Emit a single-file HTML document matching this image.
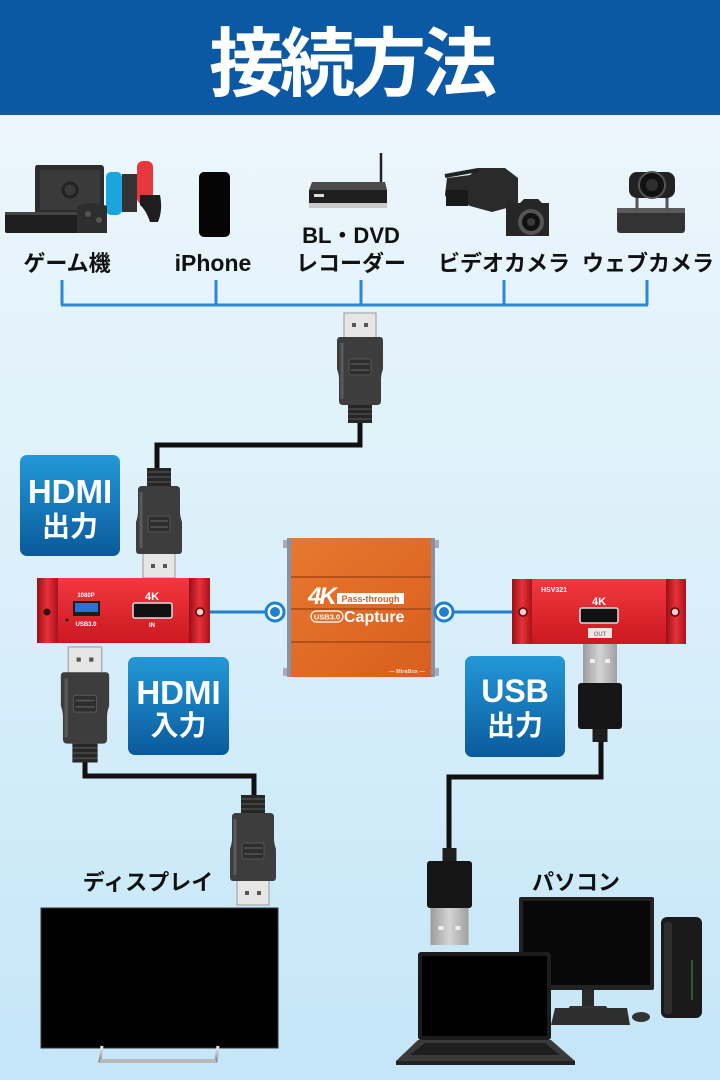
<!DOCTYPE html>
<html><head><meta charset="utf-8"><style>
html,body{margin:0;padding:0;width:720px;height:1080px;overflow:hidden;background:#dceffa}
svg{display:block}
.jp{font-family:"Liberation Sans","Noto Sans CJK JP",sans-serif;font-weight:700}
</style></head><body>
<svg width="720" height="1080" viewBox="0 0 720 1080" xmlns="http://www.w3.org/2000/svg">
<defs>
<linearGradient id="bg" x1="0" y1="0" x2="0" y2="1">
<stop offset="0" stop-color="#f1f8fc"/><stop offset="0.5" stop-color="#dcf0fa"/><stop offset="1" stop-color="#c4e6f8"/>
</linearGradient>
<linearGradient id="lbl" x1="0" y1="0" x2="0" y2="1">
<stop offset="0" stop-color="#2398d8"/><stop offset="1" stop-color="#0a5a9c"/>
</linearGradient>
<linearGradient id="red" x1="0" y1="0" x2="0" y2="1">
<stop offset="0" stop-color="#f23840"/><stop offset="1" stop-color="#cc1820"/>
</linearGradient>
<linearGradient id="cap" x1="0" y1="0" x2="1" y2="0">
<stop offset="0" stop-color="#9a0e16"/><stop offset="0.5" stop-color="#e8323a"/><stop offset="1" stop-color="#a8121a"/>
</linearGradient>
<linearGradient id="org" x1="0" y1="0" x2="1" y2="1">
<stop offset="0" stop-color="#e8782f"/><stop offset="1" stop-color="#d85e1e"/>
</linearGradient>
<linearGradient id="usbm" x1="0" y1="0" x2="1" y2="0">
<stop offset="0" stop-color="#9c9c9c"/><stop offset="0.5" stop-color="#d4d4d4"/><stop offset="1" stop-color="#a0a0a0"/>
</linearGradient>
<linearGradient id="silver" x1="0" y1="0" x2="0" y2="1">
<stop offset="0" stop-color="#f0f0f0"/><stop offset="1" stop-color="#8a8a8a"/>
</linearGradient>
</defs>

<!-- background -->
<rect x="0" y="0" width="720" height="1080" fill="url(#bg)"/>
<!-- header -->
<rect x="0" y="0" width="720" height="115" fill="#0b59a4"/>
<text x="209" y="90" class="jp" font-size="75" font-weight="900" fill="#fff" letter-spacing="-4">接続方法</text>

<!-- top devices -->
<!-- switch / console -->
<path d="M37,165 H101 Q104,165 104,169 V212 H35 V169 Q35,165 37,165Z" fill="#2c2c2c"/>
<rect x="40" y="170" width="60" height="40" fill="#3a3a3a"/>
<circle cx="70" cy="190" r="7" fill="none" stroke="#222" stroke-width="3"/>
<rect x="106" y="172" width="16" height="43" rx="5" fill="#1aa5dc"/>
<rect x="122" y="174" width="15" height="38" fill="#333"/>
<rect x="137" y="161" width="16" height="43" rx="6" fill="#e8383f"/>
<path d="M140,195 H160 Q163,210 158,222 H150 Q146,210 140,205Z" fill="#1e1e1e"/>
<rect x="5" y="212" width="102" height="21" rx="2" fill="#1e1e1e"/>
<rect x="5" y="212" width="102" height="3" fill="#444"/>
<path d="M77,206 Q92,200 107,206 V233 H77Z" fill="#2e2e2e"/>
<circle cx="88" cy="214" r="3" fill="#555"/><circle cx="99" cy="220" r="3" fill="#555"/>
<!-- iPhone -->
<rect x="199" y="172" width="31" height="65" rx="5" fill="#050505"/>
<!-- bluray -->
<line x1="381" y1="153" x2="381" y2="184" stroke="#222" stroke-width="2.5"/>
<path d="M312,182 H385 L387,190 H309Z" fill="#4a4a4a"/>
<rect x="309" y="190" width="78" height="13" fill="#1e1e1e"/>
<rect x="309" y="203" width="78" height="5" fill="#c8c8c8"/>
<rect x="314" y="194" width="10" height="3" fill="#ddd"/>
<!-- video camera -->
<path d="M447,178 L470,175 L478,168 L505,168 L518,178 L518,205 L492,212 L470,206 L458,200 L450,205 L445,195Z" fill="#2a2a2a"/>
<rect x="446" y="190" width="22" height="16" fill="#1a1a1a"/>
<line x1="445" y1="176" x2="478" y2="170" stroke="#222" stroke-width="4"/>
<!-- DSLR -->
<path d="M508,203 H520 L524,199 H538 L542,203 H549 V236 H506 V203Z" fill="#262626"/>
<circle cx="531" cy="222" r="13" fill="#555"/>
<circle cx="531" cy="222" r="9" fill="#111"/>
<circle cx="531" cy="222" r="4" fill="#3a3a3a"/>
<!-- webcam -->
<rect x="617" y="208" width="68" height="25" rx="3" fill="#333"/>
<rect x="617" y="208" width="68" height="5" fill="#5a5a5a"/>
<path d="M637,190 V212 M667,190 V212" stroke="#555" stroke-width="3"/>
<rect x="629" y="172" width="46" height="26" rx="8" fill="#222"/>
<circle cx="652" cy="185" r="13" fill="#111" stroke="#555" stroke-width="2"/>
<circle cx="652" cy="185" r="6" fill="#2e2e2e"/>

<!-- top labels -->
<g class="jp" font-size="22" fill="#111" text-anchor="middle">
<text x="67" y="271">ゲーム機</text>
<text x="213" y="271" font-size="23">iPhone</text>
<text x="351" y="243">BL・DVD</text>
<text x="351" y="271">レコーダー</text>
<text x="504" y="271">ビデオカメラ</text>
<text x="648" y="271">ウェブカメラ</text>
</g>

<!-- bracket -->
<g stroke="#2a88d6" stroke-width="3" fill="none">
<path d="M61,305 H648"/>
<path d="M62,280 V305 M216,280 V305 M361,280 V305 M504,280 V305 M647,280 V305"/>
</g>

<!-- cables -->
<g stroke="#111" stroke-width="5" fill="none" stroke-linejoin="miter">
<path d="M360,420 V445 H157 V470"/>
<path d="M85,760 V776 H254 V798"/>
<path d="M601,740 V777 H449 V850"/>
</g>

<!-- HDMI plug 1 (up) -->
<g transform="translate(360,313)">
<rect x="-16" y="0" width="32" height="25" fill="#e6e6e6" stroke="#9a9a9a"/>
<rect x="-8" y="10" width="4" height="4" fill="#555"/><rect x="4" y="10" width="4" height="4" fill="#555"/>
<path d="M-20,24 H20 Q23,24 23,28 V56 Q21,62 21,66 V88 Q21,92 17,92 H-17 Q-21,92 -21,88 V66 Q-21,62 -23,56 V28 Q-23,24 -20,24Z" fill="#3d3d3d"/>
<path d="M-18,30 V86" stroke="#5a5a5a" stroke-width="3"/>
<rect x="-11" y="46" width="22" height="16" rx="2" fill="#2e2e2e" stroke="#555"/>
<path d="M-9,51 H9 M-9,57 H9" stroke="#555" stroke-width="1.5"/>
<rect x="-12" y="92" width="24" height="18" fill="#262626"/>
<path d="M-12,96 H12 M-12,101 H12 M-12,106 H12" stroke="#4a4a4a" stroke-width="1.5"/>
</g>
<!-- HDMI plug 2 (down) -->
<g transform="translate(159,578) scale(1,-1)">
<rect x="-16" y="0" width="32" height="25" fill="#e6e6e6" stroke="#9a9a9a"/>
<rect x="-8" y="10" width="4" height="4" fill="#555"/><rect x="4" y="10" width="4" height="4" fill="#555"/>
<path d="M-20,24 H20 Q23,24 23,28 V56 Q21,62 21,66 V88 Q21,92 17,92 H-17 Q-21,92 -21,88 V66 Q-21,62 -23,56 V28 Q-23,24 -20,24Z" fill="#3d3d3d"/>
<path d="M-18,30 V86" stroke="#5a5a5a" stroke-width="3"/>
<rect x="-11" y="46" width="22" height="16" rx="2" fill="#2e2e2e" stroke="#555"/>
<path d="M-9,51 H9 M-9,57 H9" stroke="#555" stroke-width="1.5"/>
<rect x="-12" y="92" width="24" height="18" fill="#262626"/>
<path d="M-12,96 H12 M-12,101 H12 M-12,106 H12" stroke="#4a4a4a" stroke-width="1.5"/>
</g>
<!-- HDMI plug 3 (up) -->
<g transform="translate(85,647) scale(1.05)">
<rect x="-16" y="0" width="32" height="25" fill="#e6e6e6" stroke="#9a9a9a"/>
<rect x="-8" y="10" width="4" height="4" fill="#555"/><rect x="4" y="10" width="4" height="4" fill="#555"/>
<path d="M-20,24 H20 Q23,24 23,28 V56 Q21,62 21,66 V88 Q21,92 17,92 H-17 Q-21,92 -21,88 V66 Q-21,62 -23,56 V28 Q-23,24 -20,24Z" fill="#3d3d3d"/>
<path d="M-18,30 V86" stroke="#5a5a5a" stroke-width="3"/>
<rect x="-11" y="46" width="22" height="16" rx="2" fill="#2e2e2e" stroke="#555"/>
<path d="M-9,51 H9 M-9,57 H9" stroke="#555" stroke-width="1.5"/>
<rect x="-12" y="92" width="24" height="18" fill="#262626"/>
<path d="M-12,96 H12 M-12,101 H12 M-12,106 H12" stroke="#4a4a4a" stroke-width="1.5"/>
</g>
<!-- HDMI plug 4 (down) -->
<g transform="translate(253,905) scale(1,-1)">
<rect x="-16" y="0" width="32" height="25" fill="#e6e6e6" stroke="#9a9a9a"/>
<rect x="-8" y="10" width="4" height="4" fill="#555"/><rect x="4" y="10" width="4" height="4" fill="#555"/>
<path d="M-20,24 H20 Q23,24 23,28 V56 Q21,62 21,66 V88 Q21,92 17,92 H-17 Q-21,92 -21,88 V66 Q-21,62 -23,56 V28 Q-23,24 -20,24Z" fill="#3d3d3d"/>
<path d="M-18,30 V86" stroke="#5a5a5a" stroke-width="3"/>
<rect x="-11" y="46" width="22" height="16" rx="2" fill="#2e2e2e" stroke="#555"/>
<path d="M-9,51 H9 M-9,57 H9" stroke="#555" stroke-width="1.5"/>
<rect x="-12" y="92" width="24" height="18" fill="#262626"/>
<path d="M-12,96 H12 M-12,101 H12 M-12,106 H12" stroke="#4a4a4a" stroke-width="1.5"/>
</g>

<!-- USB plug top (up) -->
<g transform="translate(600,644)">
<rect x="-17" y="0" width="34" height="40" fill="url(#usbm)"/>
<rect x="-10" y="15" width="5" height="4" fill="#eee"/><rect x="5" y="15" width="5" height="4" fill="#eee"/>
<rect x="-22" y="39" width="44" height="46" rx="3" fill="#151515"/>
<rect x="-7.5" y="85" width="15" height="13" fill="#1e1e1e"/>
</g>
<!-- USB plug bottom (down) -->
<g transform="translate(449.5,945) scale(1,-1)">
<rect x="-19" y="0" width="38" height="38" fill="url(#usbm)"/>
<rect x="-11" y="15" width="5" height="4" fill="#eee"/><rect x="6" y="15" width="5" height="4" fill="#eee"/>
<rect x="-22.5" y="37" width="45" height="47" rx="3" fill="#151515"/>
<rect x="-7" y="84" width="14" height="13" fill="#1e1e1e"/>
</g>

<!-- blue connector lines -->
<g stroke="#1f7fd0" stroke-width="3">
<line x1="210" y1="612" x2="266" y2="612"/>
<line x1="453" y1="612" x2="512" y2="612"/>
</g>

<!-- left red box -->
<rect x="37" y="578" width="173" height="65" fill="url(#red)"/>
<rect x="37" y="578" width="21" height="65" fill="url(#cap)"/>
<rect x="189" y="578" width="21" height="65" fill="url(#cap)"/>
<circle cx="47" cy="612" r="3.5" fill="#3a0a0a"/>
<circle cx="200" cy="612" r="4" fill="#f4d0d0" stroke="#600" stroke-width="1.5"/>
<rect x="73" y="601" width="27" height="15" fill="#1c1c1c"/>
<rect x="75" y="603" width="23" height="9" fill="#2e6fd6"/>
<circle cx="67" cy="620" r="1.5" fill="#222"/>
<rect x="133" y="603" width="39" height="15" rx="2" fill="#111" stroke="#ddd" stroke-width="1.5"/>
<g font-family="Liberation Sans,sans-serif" font-weight="700" fill="#fff">
<text x="86" y="597" font-size="6" text-anchor="middle">1080P</text>
<text x="86" y="626" font-size="6" text-anchor="middle">USB3.0</text>
<text x="152" y="600" font-size="11" text-anchor="middle">4K</text>
<text x="152" y="627" font-size="6" text-anchor="middle">IN</text>
</g>

<!-- right red box -->
<rect x="512" y="579" width="174" height="65" fill="url(#red)"/>
<rect x="512" y="579" width="20" height="65" fill="url(#cap)"/>
<rect x="666" y="579" width="20" height="65" fill="url(#cap)"/>
<circle cx="523" cy="612" r="4" fill="#f4d0d0" stroke="#600" stroke-width="1.5"/>
<circle cx="675" cy="612" r="4" fill="#f4d0d0" stroke="#600" stroke-width="1.5"/>
<rect x="580" y="608" width="38" height="15" rx="2" fill="#111" stroke="#ddd" stroke-width="1.5"/>
<rect x="588" y="628" width="24" height="10" fill="#f2e6e6"/>
<g font-family="Liberation Sans,sans-serif" font-weight="700">
<text x="541" y="592" font-size="7" fill="#fff">HSV321</text>
<text x="599" y="605" font-size="11" fill="#fff" text-anchor="middle">4K</text>
<text x="600" y="636" font-size="6" fill="#888" text-anchor="middle">OUT</text>
</g>

<!-- orange capture box -->
<rect x="283" y="540" width="4" height="8" fill="#aab"/>
<rect x="283" y="668" width="4" height="8" fill="#aab"/>
<rect x="435" y="540" width="4" height="8" fill="#aab"/>
<rect x="435" y="668" width="4" height="8" fill="#aab"/>
<rect x="287" y="538" width="148" height="139" fill="url(#org)"/>
<rect x="287" y="538" width="4" height="139" fill="#8a90a6"/>
<rect x="431" y="538" width="4" height="139" fill="#8a90a6"/>
<g stroke="#a84614" stroke-width="1.5">
<line x1="291" y1="577" x2="431" y2="577"/>
<line x1="291" y1="609" x2="431" y2="609"/>
<line x1="291" y1="642" x2="431" y2="642"/>
</g>
<text x="308" y="604" font-family="Liberation Sans,sans-serif" font-weight="700" font-style="italic" font-size="24" fill="#fff" letter-spacing="-2">4K</text>
<rect x="337" y="593" width="67" height="11" fill="#fff"/>
<text x="370.5" y="602" font-family="Liberation Sans,sans-serif" font-weight="700" font-size="9" fill="#d8601e" text-anchor="middle">Pass-through</text>
<rect x="311" y="611" width="32" height="11" rx="5.5" fill="none" stroke="#fff" stroke-width="1.2"/>
<text x="327" y="619.5" font-family="Liberation Sans,sans-serif" font-weight="700" font-size="7.5" fill="#fff" text-anchor="middle">USB3.0</text>
<text x="344" y="622" font-family="Liberation Sans,sans-serif" font-weight="700" font-size="16" fill="#fff">Capture</text>
<text x="407" y="673" font-family="Liberation Sans,sans-serif" font-weight="700" font-size="5.5" fill="#fbe0cc" text-anchor="middle">— MiraBox —</text>

<!-- circles -->
<circle cx="275" cy="612" r="9" fill="#fff" stroke="#1f7fd0" stroke-width="3"/>
<circle cx="275" cy="612" r="5" fill="#1f7fd0"/>
<circle cx="444" cy="612" r="9" fill="#fff" stroke="#1f7fd0" stroke-width="3"/>
<circle cx="444" cy="612" r="5" fill="#1f7fd0"/>

<!-- label boxes -->
<rect x="20" y="455" width="100" height="101" rx="7" fill="url(#lbl)"/>
<rect x="128" y="657" width="101" height="98" rx="7" fill="url(#lbl)"/>
<rect x="465" y="656" width="100" height="101" rx="7" fill="url(#lbl)"/>
<g class="jp" fill="#fff" text-anchor="middle">
<text x="70" y="503" font-size="33" font-family="Liberation Sans,sans-serif">HDMI</text>
<text x="70" y="536" font-size="28">出力</text>
<text x="178.5" y="704" font-size="33" font-family="Liberation Sans,sans-serif">HDMI</text>
<text x="178.5" y="735" font-size="28">入力</text>
<text x="515" y="702" font-size="32" font-family="Liberation Sans,sans-serif">USB</text>
<text x="515" y="735" font-size="28">出力</text>
</g>

<!-- bottom labels -->
<g class="jp" font-size="22" fill="#111" text-anchor="middle">
<text x="148" y="890">ディスプレイ</text>
<text x="576" y="890">パソコン</text>
</g>

<!-- TV -->
<rect x="41" y="908" width="237" height="140" fill="#000" stroke="#333" stroke-width="1"/>
<path d="M102,1046 L100,1061 H216 L218,1046" fill="none" stroke="url(#silver)" stroke-width="3"/>
<rect x="100" y="1059" width="116" height="4" fill="#b8b8b8"/>

<!-- desktop monitor -->
<rect x="519" y="897" width="135" height="93" rx="2" fill="#222"/>
<rect x="523" y="901" width="127" height="84" fill="#080808"/>
<rect x="582" y="990" width="12" height="16" fill="#2a2a2a"/>
<path d="M570,1006 H606 L610,1012 H566Z" fill="#333"/>
<path d="M555,1008 H627 L630,1025 H551Z" fill="#2e2e2e"/>
<ellipse cx="641" cy="1017" rx="9" ry="5" fill="#333"/>
<!-- tower -->
<rect x="661" y="917" width="41" height="101" rx="6" fill="#1a1a1a"/>
<rect x="664" y="922" width="8" height="92" rx="3" fill="#2e2e2e"/>
<line x1="692" y1="960" x2="692" y2="1000" stroke="#2f5a2f" stroke-width="2"/>

<!-- laptop -->
<rect x="418" y="952" width="133" height="88" rx="3" fill="#1c1c1c"/>
<rect x="422" y="956" width="125" height="80" fill="#000"/>
<path d="M418,1040 H551 L575,1061 H396Z" fill="#3a3a3a"/>
<path d="M425,1043 H545 L560,1055 H410Z" fill="#1e1e1e"/>
<rect x="396" y="1061" width="179" height="4" fill="#222"/>
</svg>
</body></html>
